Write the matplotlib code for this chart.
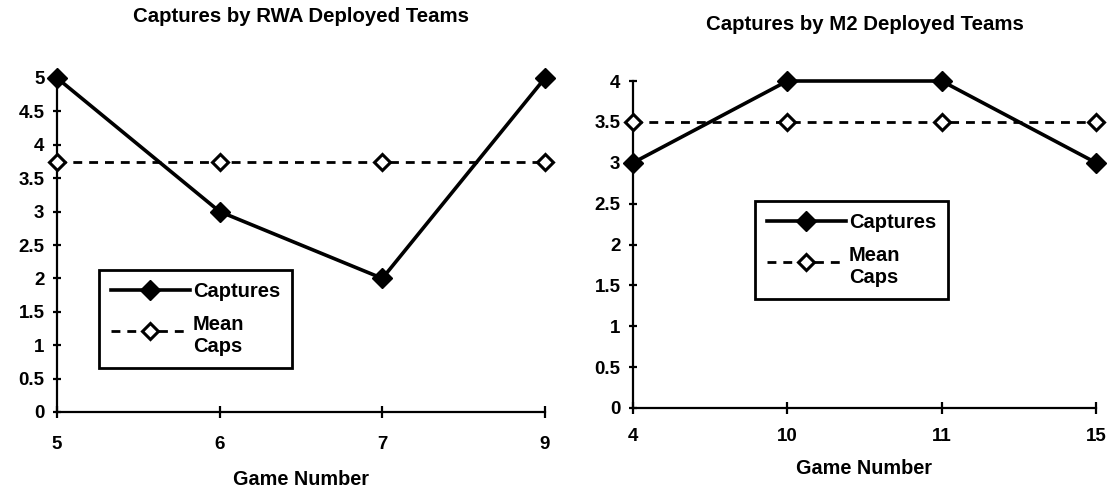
import matplotlib
matplotlib.use("Agg")
import matplotlib.pyplot as plt
from matplotlib.legend_handler import HandlerLine2D

plt.rcParams['font.family'] = ['Liberation Sans', 'DejaVu Sans']
plt.rcParams['font.weight'] = 'bold'

# Data
rwa_games = ['5', '6', '7', '9']
rwa_captures = [5, 3, 2, 5]
rwa_mean = [3.75, 3.75, 3.75, 3.75]

m2_games = ['4', '10', '11', '15']
m2_captures = [3, 4, 4, 3]
m2_mean = [3.5, 3.5, 3.5, 3.5]

left_title = 'Captures by RWA Deployed Teams'
right_title = 'Captures by M2 Deployed Teams'
xlabel = 'Game Number'
legend_labels = ['Captures', 'Mean\nCaps']

W, H = 1108, 491
fig = plt.figure(figsize=(W / 100, H / 100), dpi=100)


class ShiftedHandler(HandlerLine2D):
    def __init__(self, dy=0, **kw):
        super().__init__(**kw)
        self.dy = dy

    def create_artists(self, legend, orig_handle, xdescent, ydescent,
                       width, height, fontsize, trans):
        return super().create_artists(legend, orig_handle, xdescent,
                                      ydescent - self.dy, width, height,
                                      fontsize, trans)


def px_axes(x0, x1, ytop, ybot):
    return fig.add_axes([x0 / W, 1 - ybot / H, (x1 - x0) / W, (ybot - ytop) / H])


def draw(ax, games, caps, mean, ymax, title, title_y, leg_xy, xpad, xlabpad):
    x = list(range(len(games)))
    l1, = ax.plot(x, caps, color='black', lw=2.6, marker='D', ms=10,
                  mfc='black', mec='black', clip_on=False, zorder=4)
    l2, = ax.plot(x, mean, color='black', lw=2.0, ls=(0, (3.2, 2.5)), marker='D',
                  ms=8, mfc='white', mec='black', mew=2.2, clip_on=False, zorder=3)
    ax.set_xlim(0, len(games) - 1)
    ax.set_ylim(0, ymax)
    ax.set_xticks(x)
    ax.set_xticklabels(games)
    yt = [i * 0.5 for i in range(int(ymax * 2) + 1)]
    ax.set_yticks(yt)
    ax.set_yticklabels(['%g' % v for v in yt])
    for s in ['top', 'right']:
        ax.spines[s].set_visible(False)
    for s in ['left', 'bottom']:
        ax.spines[s].set_linewidth(1.6)
    ax.tick_params(axis='y', direction='inout', length=6, width=1.6, pad=6, labelsize=13.5)
    ax.tick_params(axis='x', direction='inout', length=9, width=1.6, pad=xpad, labelsize=13.5)
    ax.set_xlabel(xlabel, fontsize=14.3, fontweight='bold', labelpad=xlabpad)
    bb = ax.get_position()
    fig.text((bb.x0 + bb.x1) / 2, 1 - title_y / H, title, ha='center', va='center',
             fontsize=14.7, fontweight='bold')
    leg = fig.legend([l1, l2], legend_labels, loc='lower left',
                     bbox_to_anchor=(leg_xy[0] / W, 1 - leg_xy[1] / H),
                     bbox_transform=fig.transFigure, borderaxespad=0,
                     fancybox=False, framealpha=1, edgecolor='black',
                     handlelength=3.9, handletextpad=0.15, borderpad=0.6,
                     labelspacing=0.7, prop={'size': 14.5, 'weight': 'bold'},
                     handler_map={l1: HandlerLine2D(), l2: ShiftedHandler(dy=6.5)})
    leg.get_frame().set_linewidth(2.0)


ax1 = px_axes(57, 545, 78, 412)
draw(ax1, rwa_games, rwa_captures, rwa_mean, 5, left_title, 17, (99, 368), 13, 12)

ax2 = px_axes(633, 1096, 81, 408)
draw(ax2, m2_games, m2_captures, m2_mean, 4, right_title, 24, (755, 299), 10, 10)

fig.savefig('out.png', dpi=100)
